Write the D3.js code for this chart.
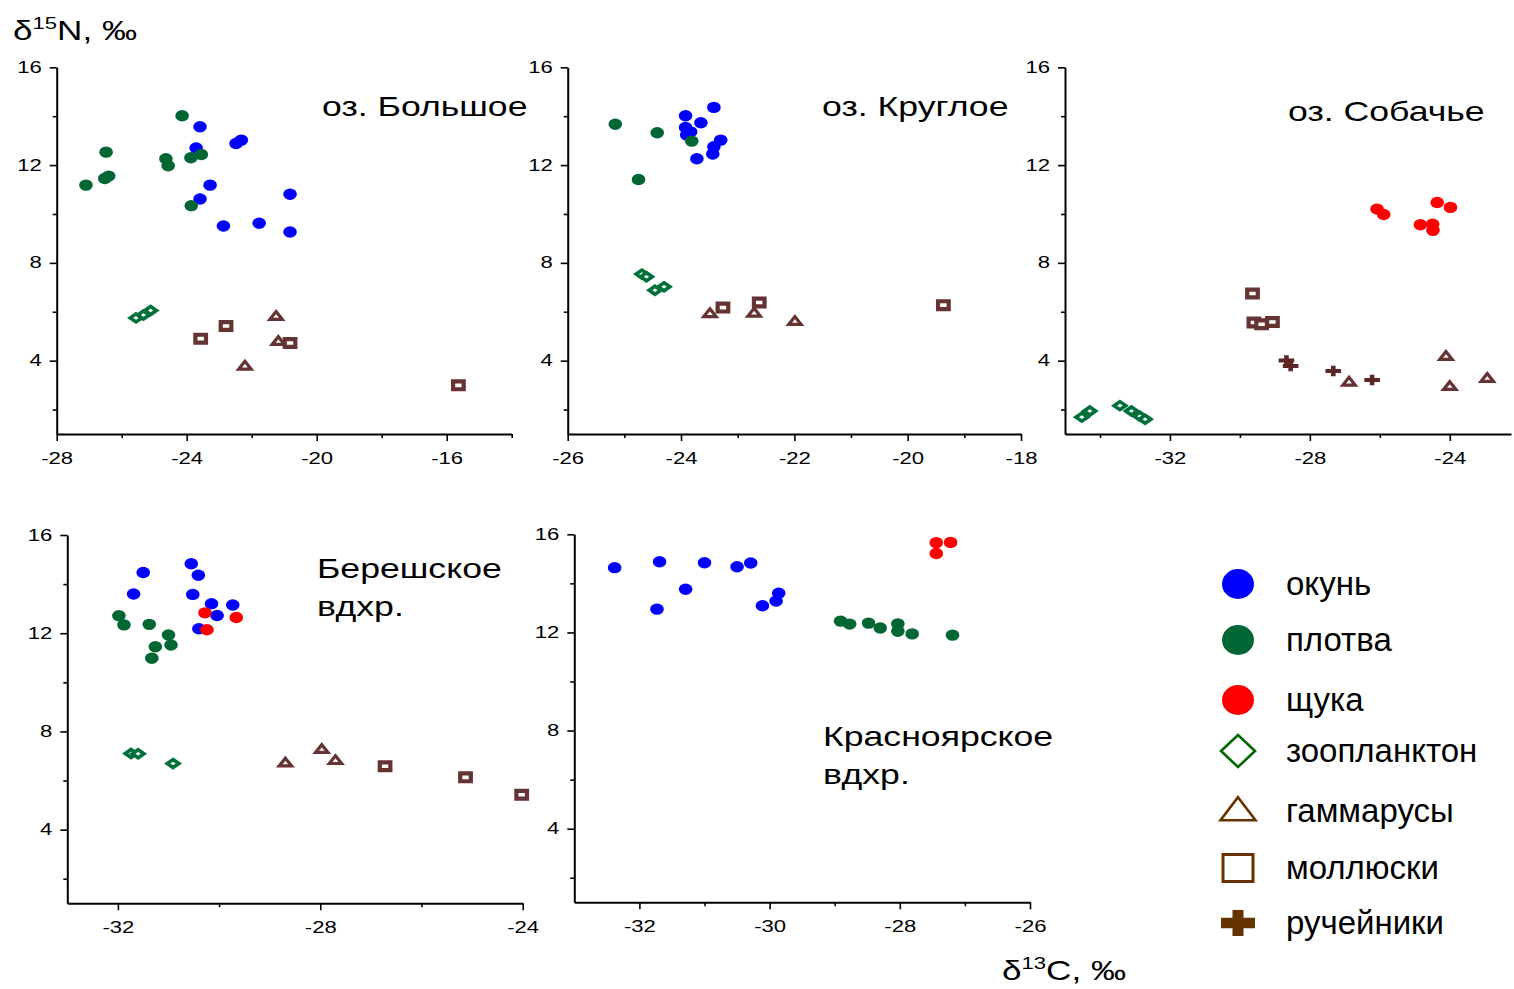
<!DOCTYPE html>
<html><head><meta charset="utf-8">
<script src="https://cdn.jsdelivr.net/npm/d3@7"></script>
<style>
body{margin:0;background:#fff}
svg{display:block}
text{font-family:"Liberation Sans",Arial,sans-serif;fill:#000}
</style>
</head><body>
<svg id="chart" width="1514" height="989"></svg>
<script>
// ---------- DATA ----------
const categories = ["окунь","плотва","щука","зоопланктон","гаммарусы","моллюски","ручейники"];
const lakeNames = [["оз. Большое"],["оз. Круглое"],["оз. Собачье"],["Берешское","вдхр."],["Красноярское","вдхр."]];
const yTickValues = [2,4,6,8,10,12,14,16];
const yTickLabels = [4,8,12,16];
const xTicksBolshoe = [-28,-26,-24,-22,-20,-18,-16,-14];
const xLabelsBolshoe = [-28,-24,-20,-16];
const xTicksKrugloe = [-26,-25,-24,-23,-22,-21,-20,-19,-18];
const xLabelsKrugloe = [-26,-24,-22,-20,-18];
const xTicksSobachye = [-34,-32,-30,-28,-26,-24];
const xLabelsSobachye = [-32,-28,-24];
const xTicksBeresh = [-32,-30,-28,-26,-24];
const xLabelsBeresh = [-32,-28,-24];
const xTicksKrasn = [-32,-31,-30,-29,-28,-27,-26];
const xLabelsKrasn = [-32,-30,-28,-26];

// rows: [category, δ13C, δ15N]
const bolshoe = [
 ["окунь",-23.59,13.57],["окунь",-23.71,12.70],["окунь",-22.48,12.88],["окунь",-22.32,13.02],["окунь",-23.28,11.18],
 ["окунь",-23.59,10.61],["окунь",-22.87,9.51],["окунь",-21.77,9.62],["окунь",-20.82,10.81],["окунь",-20.82,9.26],
 ["плотва",-27.10,11.18],["плотва",-26.48,12.53],["плотва",-26.52,11.45],["плотва",-26.40,11.55],["плотва",-24.14,14.02],
 ["плотва",-24.64,12.26],["плотва",-24.57,11.97],["плотва",-23.87,12.30],["плотва",-23.55,12.43],["плотва",-23.86,10.34],
 ["зоопланктон",-25.56,5.75],["зоопланктон",-25.33,5.87],["зоопланктон",-25.11,6.05],
 ["гаммарусы",-21.25,5.82],["гаммарусы",-21.18,4.79],["гаммарусы",-22.21,3.78],
 ["моллюски",-23.57,4.90],["моллюски",-22.79,5.42],["моллюски",-20.82,4.72],["моллюски",-15.64,2.99]
];
const krugloe = [
 ["окунь",-23.92,14.02],["окунь",-23.42,14.36],["окунь",-23.65,13.73],["окунь",-23.92,13.54],["окунь",-23.83,13.36],
 ["окунь",-23.90,13.23],["окунь",-23.30,13.02],["окунь",-23.42,12.75],["окунь",-23.44,12.45],["окунь",-23.72,12.26],
 ["плотва",-25.16,13.67],["плотва",-24.42,13.32],["плотва",-23.81,12.98],["плотва",-24.75,11.41],
 ["зоопланктон",-24.69,7.54],["зоопланктон",-24.61,7.43],["зоопланктон",-24.46,6.88],["зоопланктон",-24.30,7.02],
 ["гаммарусы",-23.49,5.93],["гаммарусы",-22.71,5.95],["гаммарусы",-21.99,5.61],
 ["моллюски",-23.26,6.17],["моллюски",-22.62,6.38],["моллюски",-19.37,6.27]
];
const sobachye = [
 ["щука",-26.08,10.20],["щука",-25.89,9.98],["щука",-24.36,10.47],["щука",-23.98,10.27],["щука",-24.84,9.56],
 ["щука",-24.49,9.58],["щука",-24.48,9.33],
 ["зоопланктон",-34.52,1.69],["зоопланктон",-34.29,1.94],["зоопланктон",-33.43,2.16],["зоопланктон",-33.10,1.94],
 ["зоопланктон",-32.86,1.73],["зоопланктон",-32.71,1.60],
 ["гаммарусы",-26.88,3.13],["гаммарусы",-24.11,4.18],["гаммарусы",-24.00,2.95],["гаммарусы",-22.93,3.28],
 ["моллюски",-29.64,6.75],["моллюски",-29.60,5.56],["моллюски",-29.38,5.49],["моллюски",-29.07,5.58],
 ["ручейники",-28.67,4.01],["ручейники",-28.55,3.78],["ручейники",-27.33,3.58],["ручейники",-26.22,3.21]
];
const bereshskoe = [
 ["окунь",-31.50,14.47],["окунь",-31.69,13.60],["окунь",-30.55,14.83],["окунь",-30.41,14.36],["окунь",-30.52,13.58],
 ["окунь",-30.15,13.20],["окунь",-29.73,13.15],["окунь",-30.04,12.72],["окунь",-30.40,12.18],
 ["плотва",-31.98,12.71],["плотва",-31.88,12.34],["плотва",-31.38,12.36],["плотва",-31.00,11.93],["плотва",-30.95,11.52],
 ["плотва",-31.26,11.45],["плотва",-31.33,10.98],
 ["щука",-30.28,12.83],["щука",-29.66,12.64],["щука",-30.24,12.14],
 ["зоопланктон",-31.74,7.10],["зоопланктон",-31.60,7.09],["зоопланктон",-30.91,6.69],
 ["гаммарусы",-28.69,6.72],["гаммарусы",-27.97,7.27],["гаммарусы",-27.70,6.82],
 ["моллюски",-26.72,6.58],["моллюски",-25.13,6.13],["моллюски",-24.02,5.42]
];
const krasnoyarsk = [
 ["окунь",-32.38,14.64],["окунь",-31.69,14.88],["окунь",-31.73,12.95],["окунь",-31.29,13.76],["окунь",-31.00,14.84],
 ["окунь",-30.50,14.68],["окунь",-30.29,14.83],["окунь",-30.11,13.09],["окунь",-29.90,13.28],["окунь",-29.86,13.60],
 ["плотва",-28.91,12.46],["плотва",-28.77,12.34],["плотва",-28.48,12.38],["плотва",-28.30,12.18],["плотва",-28.03,12.35],
 ["плотва",-28.03,12.05],["плотва",-27.81,11.94],["плотва",-27.19,11.89],
 ["щука",-27.44,15.66],["щука",-27.22,15.67],["щука",-27.44,15.22]
];

// ---------- LAYOUT / STYLE ----------
const svg = d3.select("#chart");
const TICK_SX = 1.38, TICK_FS = 16, TITLE_SX = 1.25, TITLE_FS = 28.5;

const panels = [
 {data:bolshoe, name:lakeNames[0], xDomain:[-28,-14], xRange:[56.7,511.7], yRange:[434,67.3],
  xTicks:xTicksBolshoe, xLabels:xLabelsBolshoe, title:{x:322,y:116,lh:38}},
 {data:krugloe, name:lakeNames[1], xDomain:[-26,-18], xRange:[567.7,1021], yRange:[434,67.3],
  xTicks:xTicksKrugloe, xLabels:xLabelsKrugloe, title:{x:822,y:116,lh:38}},
 {data:sobachye, name:lakeNames[2], xDomain:[-35,-22.25], xRange:[1065,1511], yRange:[434,67.3],
  xTicks:xTicksSobachye, xLabels:xLabelsSobachye, title:{x:1288,y:121,lh:38}},
 {data:bereshskoe, name:lakeNames[3], xDomain:[-33,-24], xRange:[67.3,522.7], yRange:[903.3,535],
  xTicks:xTicksBeresh, xLabels:xLabelsBeresh, title:{x:317,y:578,lh:38}},
 {data:krasnoyarsk, name:lakeNames[4], xDomain:[-33,-26], xRange:[574.3,1030], yRange:[902.3,534.3],
  xTicks:xTicksKrasn, xLabels:xLabelsKrasn, title:{x:823,y:746,lh:38}}
];

const BROWN = "#663333";
const style = {
 "окунь":      {shape:"ellipse", fill:"#0000ff"},
 "плотва":     {shape:"ellipse", fill:"#006633"},
 "щука":       {shape:"ellipse", fill:"#ff0000"},
 "зоопланктон":{shape:"diamond", stroke:"#00703a"},
 "гаммарусы":  {shape:"triangle", stroke:BROWN},
 "моллюски":   {shape:"square", stroke:BROWN},
 "ручейники":  {shape:"cross", fill:"#5c2626"}
};
const legendStyle = {
 "окунь":{fill:"#0000ff"}, "плотва":{fill:"#006633"}, "щука":{fill:"#ff0000"},
 "зоопланктон":{stroke:"#006600"}, "гаммарусы":{stroke:"#663300"}, "моллюски":{stroke:"#663300"}, "ручейники":{fill:"#663300"}
};

function diamondPath(w,h){return `M0,${-h}L${w},0L0,${h}L${-w},0Z`;}
function trianglePath(w,h){return `M0,${-h*0.6}L${w},${h*0.4}L${-w},${h*0.4}Z`;}
function squarePath(w,h){return `M${-w},${-h}H${w}V${h}H${-w}Z`;}
function crossPath(w,h,tx,ty){return `M${-tx},${-h}H${tx}V${-ty}H${w}V${ty}H${tx}V${h}H${-tx}V${ty}H${-w}V${-ty}H${-tx}Z`;}

function drawMarker(g, cat, cx, cy, big){
  const s = style[cat];
  const ls = legendStyle[cat];
  const m = g.append("g").attr("transform",`translate(${cx},${cy})`);
  if(s.shape==="ellipse"){
    m.append("ellipse").attr("rx", big?16:6.8).attr("ry", big?15:5.7).attr("fill", big?ls.fill:s.fill);
  } else if(s.shape==="diamond"){
    if(big) m.append("path").attr("d",diamondPath(17,16)).attr("fill","#fff").attr("stroke",ls.stroke).attr("stroke-width",2.6);
    else m.append("path").attr("d",diamondPath(5.8,4.0)).attr("fill","#fff").attr("stroke",s.stroke).attr("stroke-width",3.6);
  } else if(s.shape==="triangle"){
    if(big) m.append("path").attr("d",trianglePath(17.5,23)).attr("fill","#fff").attr("stroke",ls.stroke).attr("stroke-width",2.6);
    else m.append("path").attr("d",trianglePath(6.2,7.8)).attr("fill","#fff").attr("stroke",s.stroke).attr("stroke-width",3.2);
  } else if(s.shape==="square"){
    if(big) m.append("path").attr("d",squarePath(15,13.5)).attr("fill","#fff").attr("stroke",ls.stroke).attr("stroke-width",3);
    else m.append("path").attr("d",squarePath(5.3,3.9)).attr("fill","#fff").attr("stroke",s.stroke).attr("stroke-width",4.2);
  } else if(s.shape==="cross"){
    if(big) m.append("path").attr("d",crossPath(17,13,5.5,5.3)).attr("fill",ls.fill);
    else m.append("path").attr("d",crossPath(7.8,5.2,2.3,2.0)).attr("fill",s.fill);
  }
}

function stretchedText(parent, x, y, str, size, sx){
  return parent.append("text")
    .attr("transform",`translate(${x},${y}) scale(${sx},1)`)
    .attr("font-size",size).text(str);
}

panels.forEach(p=>{
  const x = d3.scaleLinear().domain(p.xDomain).range(p.xRange);
  const y = d3.scaleLinear().domain([1,16]).range(p.yRange);
  const g = svg.append("g");

  const xa = d3.axisBottom(x).tickValues(p.xTicks).tickSizeInner(7).tickSizeOuter(0)
    .tickFormat(d => p.xLabels.includes(d) ? `${d}` : "");
  const gx = g.append("g").attr("transform",`translate(0,${p.yRange[0]})`).call(xa);
  gx.select(".domain").attr("stroke","#000").attr("stroke-width",2);
  gx.selectAll(".tick line").attr("stroke","#000").attr("stroke-width",1.6)
    .attr("y2", d => p.xLabels.includes(d) ? 7 : 4);
  gx.selectAll(".tick text").attr("font-size",TICK_FS).attr("font-family",null).attr("fill","#000")
    .attr("y",18.5).attr("transform",`scale(${TICK_SX},1)`);

  const ya = d3.axisLeft(y).tickValues(yTickValues).tickSizeInner(7).tickSizeOuter(0)
    .tickFormat(d => yTickLabels.includes(d) ? `${d}` : "");
  const gy = g.append("g").attr("transform",`translate(${p.xRange[0]},0)`).call(ya);
  gy.select(".domain").attr("stroke","#000").attr("stroke-width",2);
  gy.selectAll(".tick line").attr("stroke","#000").attr("stroke-width",1.6)
    .attr("x2", d => yTickLabels.includes(d) ? -7 : -4);
  gy.selectAll(".tick text").attr("font-size",TICK_FS).attr("font-family",null).attr("fill","#000")
    .attr("x",-15/TICK_SX).attr("transform",`scale(${TICK_SX},1)`);

  categories.forEach(cat=>{
    p.data.filter(r=>r[0]===cat).forEach(r=>{
      drawMarker(g, cat, x(r[1]), y(r[2]), false);
    });
  });

  p.name.forEach((line,i)=>{
    stretchedText(g, p.title.x, p.title.y + i*p.title.lh, line, TITLE_FS, TITLE_SX);
  });
});

// axis titles
const yt = svg.append("text").attr("transform",`translate(13,40) scale(1.3,1)`).attr("font-size",27);
yt.append("tspan").text("δ");
yt.append("tspan").attr("font-size",17).attr("dy",-11).text("15");
yt.append("tspan").attr("dy",11).text("N, ‰");
const xt = svg.append("text").attr("transform",`translate(1002,980) scale(1.3,1)`).attr("font-size",27);
xt.append("tspan").text("δ");
xt.append("tspan").attr("font-size",17).attr("dy",-11).text("13");
xt.append("tspan").attr("dy",11).text("C, ‰");

// legend
const legendY = [584,640,700,751,811,868,923];
const lg = svg.append("g");
categories.forEach((cat,i)=>{
  drawMarker(lg, cat, 1238, legendY[i], true);
  lg.append("text").attr("x",1286).attr("y",legendY[i]).attr("dy","0.34em")
    .attr("font-size",33).text(cat);
});
</script>
</body></html>
